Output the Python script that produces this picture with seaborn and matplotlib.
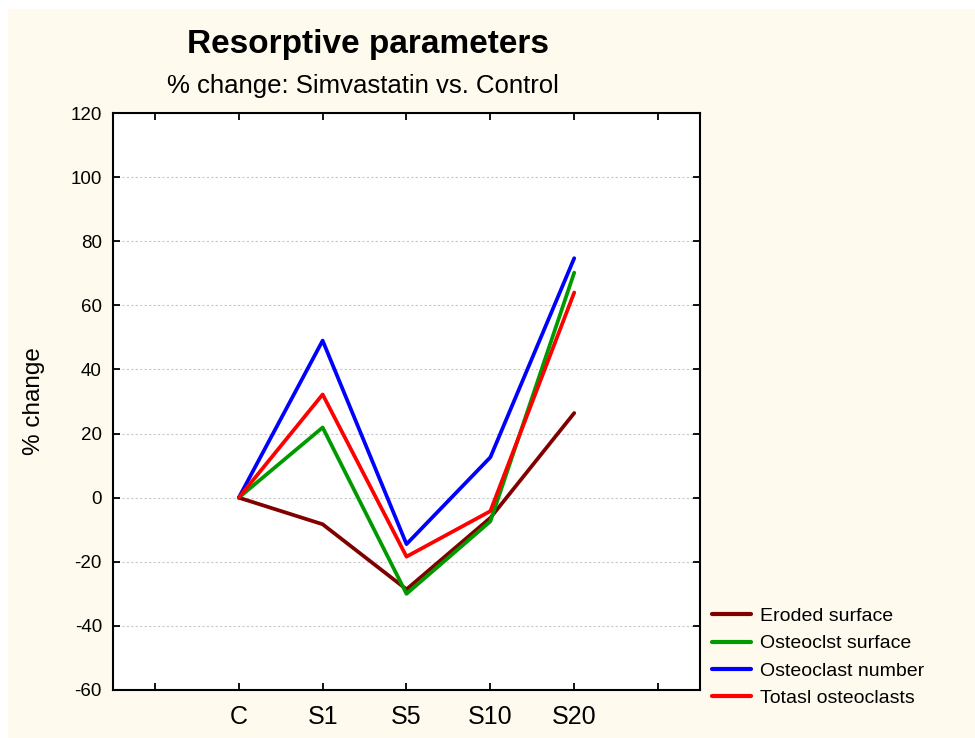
import numpy as np
import pandas as pd
import seaborn as sns
import matplotlib.pyplot as plt
from matplotlib.patches import Rectangle

# data
groups = ["C", "S1", "S5", "S10", "S20"]
eroded_surface = [0, -8.3, -28.6, -6.3, 26.4]
osteoclst_surface = [0, 21.9, -30.0, -7.4, 70.2]
osteoclast_number = [0, 49.0, -14.5, 12.6, 74.7]
totasl_osteoclasts = [0, 32.2, -18.4, -4.2, 64.0]
series_names = ["Eroded surface", "Osteoclst surface", "Osteoclast number", "Totasl osteoclasts"]
y_ticks = list(range(-60, 121, 20))

colors = ["#800000", "#009a00", "#0000ff", "#ff0000"]
cream = "#fffaee"

sns.set_style("white")
plt.rcParams['font.family'] = ['Liberation Sans', 'DejaVu Sans']
plt.rcParams['axes.unicode_minus'] = False
plt.rcParams['text.color'] = 'black'
plt.rcParams['axes.labelcolor'] = 'black'

rows = []
for name, vals in zip(series_names, [eroded_surface, osteoclst_surface, osteoclast_number, totasl_osteoclasts]):
    for i, v in enumerate(vals):
        rows.append({"pos": i, "group": groups[i], "value": v, "series": name})
df = pd.DataFrame(rows)

fig = plt.figure(figsize = (9.75, 7.38), dpi = 100)
fig.patch.set_facecolor("white")
fig.patches.append(Rectangle((8 / 975, 0), 1, 1 - 9 / 738, transform = fig.transFigure,
                             facecolor = cream, edgecolor = "none", zorder = -10))

ax = fig.add_axes([113 / 975, 1 - 690 / 738, 587 / 975, 577 / 738])
ax.set_facecolor("white")

sns.lineplot(data = df, x = "pos", y = "value", hue = "series", hue_order = series_names,
             palette = colors, linewidth = 2.7, ax = ax, legend = True)

ax.set_xlim(-1.5, 5.5)
ax.set_ylim(-60, 120)
ax.set_xticks(range(-1, 6))
ax.set_xticklabels([""] + groups + [""])
ax.set_yticks(y_ticks)
ax.set_xlabel("")
ax.set_ylabel("% change", fontsize = 17.5, color = "black")
ax.yaxis.set_label_coords(-0.115, 0.5)

ax.grid(axis = "y", linestyle = (0, (2, 2)), color = "#c8c8c8", linewidth = 0.8)
ax.grid(axis = "x", visible = False)
for sp in ax.spines.values():
    sp.set_color("black")
    sp.set_linewidth(1.5)
ax.tick_params(axis = "both", direction = "in", length = 5, width = 1.3,
               top = True, right = True, bottom = True, left = True, colors = "black")
ax.tick_params(axis = "y", labelsize = 13.5, pad = 8)
ax.tick_params(axis = "x", labelsize = 18, pad = 11)

handles, labels = ax.get_legend_handles_labels()
ax.get_legend().remove()
leg = fig.legend(handles, labels, loc = "lower left", bbox_to_anchor = (712 / 975, 1 - 707 / 738),
                 frameon = False, fontsize = 14, handlelength = 2.0, handletextpad = 0.45,
                 labelspacing = 0.5, borderpad = 0, borderaxespad = 0)
for line in leg.get_lines():
    line.set_linewidth(3)

fig.text(368 / 975, 1 - 44 / 738, "Resorptive parameters", ha = "center", va = "center",
         fontsize = 24, fontweight = "bold")
fig.text(363 / 975, 1 - 86 / 738, "% change: Simvastatin vs. Control", ha = "center", va = "center",
         fontsize = 18.5)

fig.savefig("out.png", dpi = 100, facecolor = fig.get_facecolor())
